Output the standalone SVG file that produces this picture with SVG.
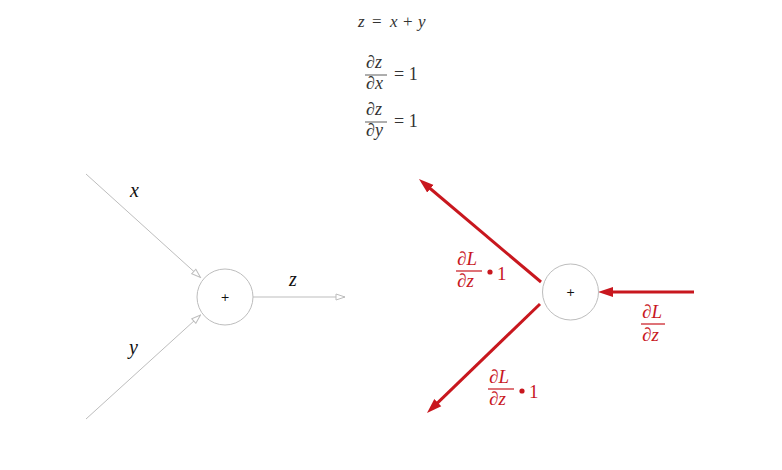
<svg xmlns="http://www.w3.org/2000/svg" width="782" height="470" viewBox="0 0 782 470">
<style>
.eq{font-family:'Liberation Serif','Times New Roman',serif;font-size:17px;fill:#333}
.fr{font-family:'Liberation Serif','Times New Roman',serif;font-size:18px;fill:#333}
.it{font-style:italic}
.var{font-family:'Liberation Serif','Times New Roman',serif;font-size:20px;font-style:italic;fill:#111}
.red{font-family:'Liberation Serif','Times New Roman',serif;font-size:19px;fill:#c8171e}
.node{fill:#fff;stroke:#bdbdbd;stroke-width:1}
.plus{font-family:'DejaVu Sans',sans-serif;font-size:11px;fill:#111;text-anchor:middle}
.fwd{stroke:#bdbdbd;stroke-width:1;fill:none}
.bwd{stroke:#c8171e;stroke-width:3;fill:none}
.frac{stroke:#333;stroke-width:0.8}
.rfrac{stroke:#c8171e;stroke-width:1.2}
</style>
<defs>
<marker id="open" markerUnits="userSpaceOnUse" viewBox="0 0 11 8" markerWidth="11" markerHeight="8" refX="10" refY="4" orient="auto">
<path d="M1,1 L10,4 L1,7 z" fill="#fff" stroke="#bdbdbd" stroke-width="1"/>
</marker>
<marker id="solid" markerUnits="userSpaceOnUse" viewBox="0 0 16 12" markerWidth="16" markerHeight="12" refX="5" refY="6" orient="auto">
<path d="M0,1 L15,6 L0,11 z" fill="#c8171e"/>
</marker>
</defs>

<g id="equations">
<text class="eq it" y="27"><tspan x="358">z</tspan><tspan x="372" font-style="normal">=</tspan><tspan x="390">x</tspan><tspan x="403" font-style="normal">+</tspan><tspan x="418">y</tspan></text>
<text class="fr" x="366" y="68">∂<tspan class="it">z</tspan></text>
<line class="frac" x1="365" y1="75" x2="387" y2="75"/>
<text class="fr" x="366" y="89">∂<tspan class="it">x</tspan></text>
<text class="fr" x="394" y="80">= 1</text>
<text class="fr" x="366" y="115">∂<tspan class="it">z</tspan></text>
<line class="frac" x1="365" y1="122" x2="387" y2="122"/>
<text class="fr" x="366" y="136">∂<tspan class="it">y</tspan></text>
<text class="fr" x="394" y="127">= 1</text>
</g>

<g id="connectors">
<path class="fwd" d="M86,174 L200.5,277.5" marker-end="url(#open)"/>
<path class="fwd" d="M86,419 L200.5,315" marker-end="url(#open)"/>
<path class="fwd" d="M253,297 L345,297" marker-end="url(#open)"/>
<path class="bwd" d="M541,282 L426.6,185.5" marker-end="url(#solid)"/>
<path class="bwd" d="M540,304 L434.2,406.1" marker-end="url(#solid)"/>
<path class="bwd" d="M694,292 L608,292" marker-end="url(#solid)"/>
</g>

<g id="label-x"><text class="var" x="130" y="197">x</text></g>
<g id="label-y"><text class="var" x="129" y="354">y</text></g>
<g id="label-z"><text class="var" x="289" y="286">z</text></g>

<g id="node-forward">
<circle class="node" cx="225" cy="297" r="28"/>
<text class="plus" x="225" y="301">+</text>
</g>

<g id="node-backward">
<circle class="node" cx="570.5" cy="292" r="28"/>
<text class="plus" x="570.5" y="296">+</text>
</g>

<g id="grad-x">
<text class="red" x="457" y="265">∂<tspan font-style="italic">L</tspan></text>
<line class="rfrac" x1="456" y1="271" x2="482" y2="271"/>
<text class="red" x="457" y="287">∂<tspan font-style="italic">z</tspan></text>
<circle cx="490" cy="272" r="2.6" fill="#c8171e"/>
<text class="red" x="497" y="280">1</text>
</g>

<g id="grad-y">
<text class="red" x="489" y="383">∂<tspan font-style="italic">L</tspan></text>
<line class="rfrac" x1="488" y1="389" x2="514" y2="389"/>
<text class="red" x="489" y="405">∂<tspan font-style="italic">z</tspan></text>
<circle cx="522" cy="391" r="2.6" fill="#c8171e"/>
<text class="red" x="529" y="398">1</text>
</g>

<g id="grad-z">
<text class="red" x="642" y="318">∂<tspan font-style="italic">L</tspan></text>
<line class="rfrac" x1="641" y1="324" x2="665" y2="324"/>
<text class="red" x="642" y="341">∂<tspan font-style="italic">z</tspan></text>
</g>
</svg>
